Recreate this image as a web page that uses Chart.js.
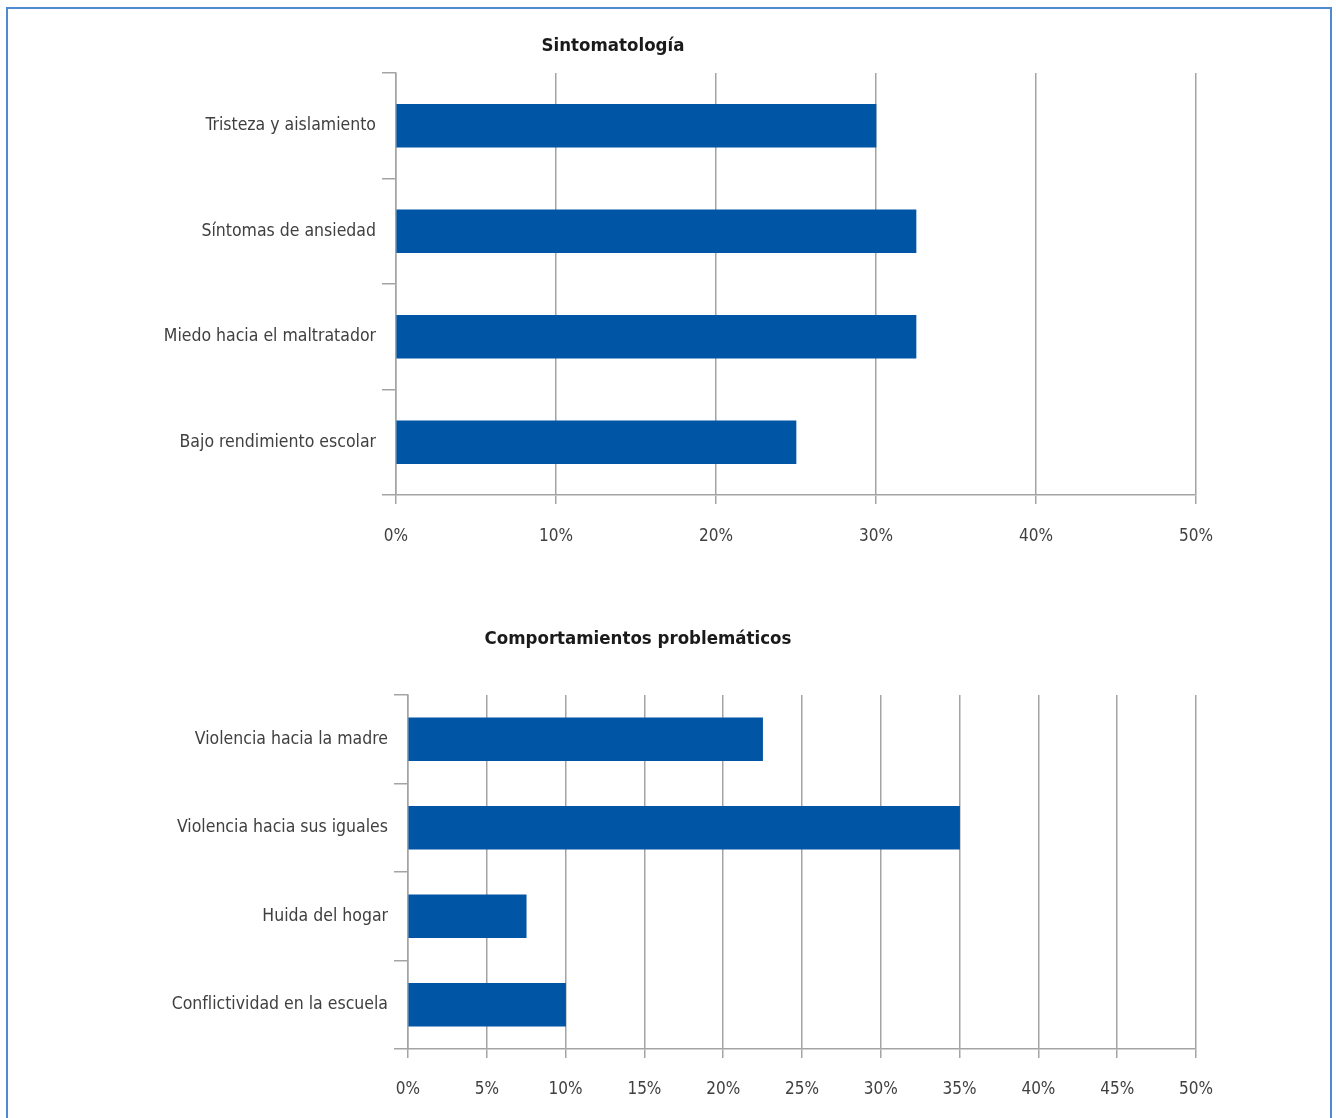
<!DOCTYPE html>
<html lang="es">
<head>
  <meta charset="UTF-8" />
  <title>Sintomatología y comportamientos problemáticos</title>
  <style>
    * { box-sizing: border-box; }
    html, body {
      margin: 0; padding: 0;
      width: 1336px; height: 1118px;
      overflow: hidden;
      background: #fff;
    }
    #frame {
      position: absolute;
      left: 6px; top: 7px;
      width: 1326px; height: 1200px;
      border: 2px solid #4f8ad0;
    }
    .box { position: absolute; }
    #box1 { left: -9px; top: 21px; width: 1244px; height: 539px; }
    #box2 { left: 42px; top: 611px; width: 1192px; height: 507px; }
  </style>
</head>
<body>
  <div id="frame"></div>
  <div class="box" id="box1"><canvas id="chart1"></canvas></div>
  <div class="box" id="box2"><canvas id="chart2"></canvas></div>

  <script src="https://cdn.jsdelivr.net/npm/chart.js"></script>
  <script>
    // datos
    const sintomasLabels = ['Tristeza y aislamiento', 'Síntomas de ansiedad', 'Miedo hacia el maltratador', 'Bajo rendimiento escolar'];
    const sintomasValues = [30, 32.5, 32.5, 25];

    const conductasLabels = ['Violencia hacia la madre', 'Violencia hacia sus iguales', 'Huida del hogar', 'Conflictividad en la escuela'];
    const conductasValues = [22.5, 35, 7.5, 10];

    const xMin = 0, xMax = 50;
    const step1 = 10, step2 = 5;

    const FONT = "'DejaVu Sans Condensed', 'Liberation Sans Narrow', sans-serif";
    const BLUE = '#0055a4';
    const GRID = '#a4a4a4';
    const TEXT = '#404040';

    function makeChart(id, title, labels, values, step, opt) {
      const ctx = document.getElementById(id).getContext('2d');
      return new Chart(ctx, {
        type: 'bar',
        data: {
          labels: labels,
          datasets: [{
            data: values,
            backgroundColor: BLUE,
            borderWidth: 0,
            barThickness: 43
          }]
        },
        options: {
          indexAxis: 'y',
          responsive: true,
          maintainAspectRatio: false,
          animation: false,
          layout: { padding: 0 },
          scales: {
            x: {
              min: xMin,
              max: xMax,
              ticks: {
                stepSize: step,
                color: TEXT,
                font: { family: FONT, size: 17 },
                padding: opt.xPad,
                maxRotation: 0,
                callback: v => v + '%'
              },
              grid: { color: GRID, lineWidth: 1.5, tickLength: 9 },
              border: { display: true, color: GRID, width: 1.5 },
              afterFit: s => { s.height = opt.xHeight; }
            },
            y: {
              ticks: {
                color: TEXT,
                font: { family: FONT, size: 17.5 },
                padding: 6
              },
              grid: { drawOnChartArea: false, color: GRID, lineWidth: 1.5, tickLength: 14 },
              border: { display: true, color: GRID, width: 1.5 },
              afterFit: s => { s.width = opt.yWidth; }
            }
          },
          plugins: {
            legend: { display: false },
            tooltip: { enabled: false },
            title: {
              display: true,
              text: title,
              color: '#1a1a1a',
              font: { family: FONT, size: opt.titleSize, weight: 'bold' },
              padding: { top: opt.titleTop, bottom: opt.titleBottom }
            }
          }
        }
      });
    }

    makeChart('chart1', 'Sintomatología', sintomasLabels, sintomasValues, step1,
      { yWidth: 405, xHeight: 65, xPad: 22, titleSize: 18.5, titleTop: 14, titleBottom: 15.8 });
    makeChart('chart2', 'Comportamientos problemáticos', conductasLabels, conductasValues, step2,
      { yWidth: 366, xHeight: 69, xPad: 21, titleSize: 18.5, titleTop: 17, titleBottom: 44.8 });
  </script>
</body>
</html>
